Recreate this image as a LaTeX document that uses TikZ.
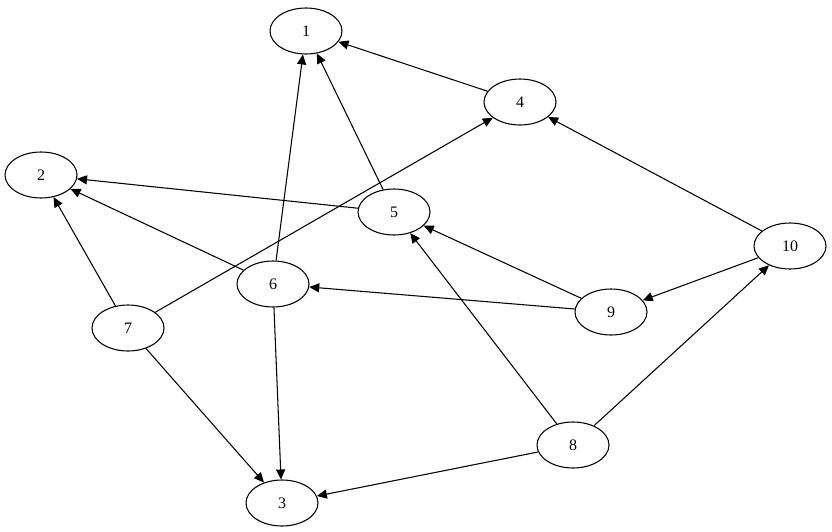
\documentclass[tikz,border=0pt]{standalone}
\usepackage{fontspec}
\setmainfont{Liberation Serif}
\usetikzlibrary{shapes.geometric,arrows.meta}
\begin{document}
\begin{tikzpicture}[x=0.75pt,y=-0.75pt,
  vtx/.style={draw,ellipse,line width=0.8pt,minimum width=54pt,minimum height=34.5pt,inner sep=0pt,font=\fontsize{12}{14}\selectfont},
  edge/.style={draw,line width=0.8pt,-{Triangle[length=7.5pt,width=6.8pt]}}]
\useasboundingbox (0,0) rectangle (832,532);
\node[vtx] (n1) at (306,31) {1};
\node[vtx] (n2) at (41,175) {2};
\node[vtx] (n3) at (282,503) {3};
\node[vtx] (n4) at (520,102) {4};
\node[vtx] (n5) at (394,212) {5};
\node[vtx] (n6) at (273,284) {6};
\node[vtx] (n7) at (128,328) {7};
\node[vtx] (n8) at (573,445) {8};
\node[vtx] (n9) at (611,312) {9};
\node[vtx] (n10) at (790,246) {10};
\path[edge] (n4) -- (n1);
\path[edge] (n5) -- (n1);
\path[edge] (n6) -- (n1);
\path[edge] (n7) -- (n4);
\path[edge] (n5) -- (n2);
\path[edge] (n6) -- (n2);
\path[edge] (n7) -- (n2);
\path[edge] (n6) -- (n3);
\path[edge] (n7) -- (n3);
\path[edge] (n8) -- (n3);
\path[edge] (n8) -- (n5);
\path[edge] (n8) -- (n10);
\path[edge] (n9) -- (n5);
\path[edge] (n9) -- (n6);
\path[edge] (n10) -- (n4);
\path[edge] (n10) -- (n9);
\end{tikzpicture}
\end{document}
